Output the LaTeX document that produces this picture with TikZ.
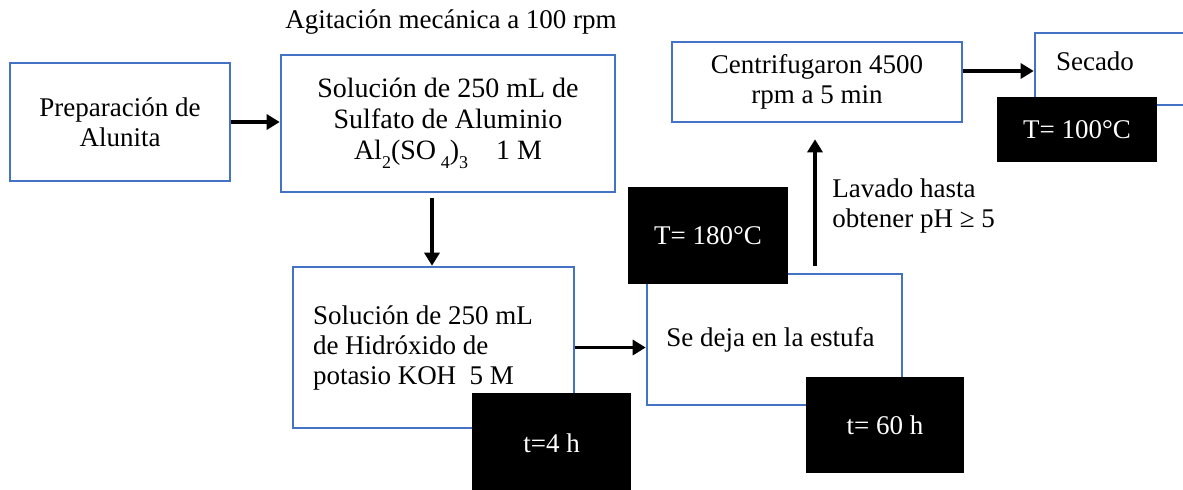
\documentclass[tikz,border=0pt]{standalone}
\usepackage{fontspec}
\setmainfont{Liberation Serif}
\usetikzlibrary{arrows.meta}
\definecolor{boxblue}{HTML}{4472C4}
\newcommand\lowsub[1]{\raisebox{-0.7ex}{\fontsize{9}{9}\selectfont #1}}
\begin{document}
\begin{tikzpicture}[x=0.5pt,y=-0.5pt,
  every node/.style={font=\fontsize{13.5}{15}\selectfont},
  bigtext/.style={font=\fontsize{14}{15.5}\selectfont},
  bluebox/.style={draw=boxblue,line width=1.3pt,fill=white,rectangle,inner sep=0pt,align=center},
  blackbox/.style={fill=black,text=white,rectangle,inner sep=0pt,align=center},
  arr/.style={line width=1.6pt,-{Triangle[length=6.5pt,width=7.5pt]}}]
\useasboundingbox (0,0) rectangle (1183,489);
\clip (0,0) rectangle (1183,489);
\fill[white] (0,0) rectangle (1183,489);
\node (title) at (451,22) {Agitación mecánica a 100 rpm};
\node[bluebox,minimum width=110pt,minimum height=59pt] (b1) at (120,122) {Preparación de\\Alunita};
\node[bluebox,bigtext,minimum width=167pt,minimum height=68.5pt] (b2) at (448,123.5) {Solución de 250 mL de\\Sulfato de Aluminio\\Al\lowsub{2}(SO\,\lowsub{4})\lowsub{3}\quad 1 M};
\node[bluebox,minimum width=140.5pt,minimum height=80.5pt,text width=120.5pt,align=flush left] (b3) at (433.5,347.5) {Solución de 250 mL\\de Hidróxido de\\potasio KOH\ \ 5 M};
\node[bluebox,minimum width=127.5pt,minimum height=65.5pt] (b4) at (774.5,339.5) {\hspace*{-4pt}Se deja en la estufa};
\node[bluebox,minimum width=145pt,minimum height=40pt] (b5) at (817,82) {Centrifugaron 4500\\rpm a 5 min};
\node[bluebox,minimum width=112.5pt,minimum height=36pt,text width=91.5pt,align=flush left] (b6) at (1147.5,69) {\raisebox{4pt}[\height][\depth]{Secado}};
\node[blackbox,minimum width=79.5pt,minimum height=50pt] (k1) at (551.5,443) {t=4 h};
\node[blackbox,minimum width=80pt,minimum height=48.5pt] (k2) at (708,235.5) {T= 180°C};
\node[blackbox,minimum width=79pt,minimum height=48pt] (k3) at (885,425) {t= 60 h};
\node[blackbox,minimum width=80pt,minimum height=32.5pt] (k4) at (1077,129.5) {T= 100°C};
\node[anchor=west,align=flush left,inner xsep=0pt] (lav) at (832,206) {Lavado hasta\\obtener pH ≥ 5};
\draw[arr] (b1.east) -- (b1.east -| b2.west);
\draw[arr,shorten <=2.5pt] (432,0 |- b2.south) -- (432,0 |- b3.north);
\draw[arr] (b3.east) -- (b3.east -| b4.west);
\draw[arr,shorten <=3.5pt,shorten >=8pt] (815,0 |- b4.north) -- (815,0 |- b5.south);
\draw[arr] (b5.east |- 0,71) -- (b6.west |- 0,71);
\end{tikzpicture}
\end{document}
